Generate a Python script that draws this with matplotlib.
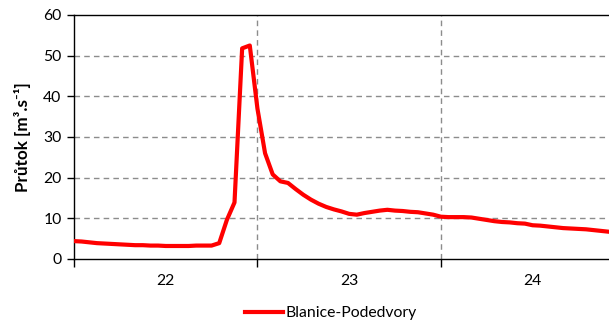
import matplotlib
matplotlib.use("Agg")
import matplotlib.pyplot as plt
from matplotlib.ticker import FixedLocator, NullFormatter

plt.rcParams['font.family'] = ['Lato', 'DejaVu Sans']

series_name = "Blanice-Podedvory"
day_labels = ["22", "23", "24"]
hours = list(range(71))
flow = [4.4, 4.3, 4.1, 3.9, 3.8, 3.7, 3.6, 3.5, 3.4, 3.4,
        3.3, 3.3, 3.2, 3.2, 3.2, 3.2, 3.3, 3.3, 3.3, 3.9,
        9.6, 13.9, 51.8, 52.5, 37.0, 26.0, 20.8, 19.1, 18.7, 17.2,
        15.8, 14.6, 13.6, 12.8, 12.2, 11.7, 11.1, 10.9, 11.3, 11.6,
        11.9, 12.1, 11.9, 11.8, 11.6, 11.5, 11.2, 10.9, 10.4, 10.3,
        10.3, 10.3, 10.2, 9.9, 9.6, 9.3, 9.1, 9.0, 8.8, 8.7,
        8.3, 8.2, 8.0, 7.8, 7.6, 7.5, 7.4, 7.3, 7.1, 6.9, 6.7]

fs = 11.3
fig = plt.figure(figsize=(6.09, 3.22), dpi=100)
ax = fig.add_axes([74/609, 1-259/322, 1-74/609, (259-15)/322])

ax.plot(hours, flow, color='#FF0000', lw=3.0, solid_joinstyle='round', label=series_name, zorder=3)

ax.set_xlim(0, 70)
ax.set_ylim(0, 60)
ax.set_yticks(range(0, 61, 10))
ax.xaxis.set_major_locator(FixedLocator([0, 24, 48]))
ax.xaxis.set_major_formatter(NullFormatter())
ax.xaxis.set_minor_locator(FixedLocator([12, 36, 60]))
ax.set_xticklabels(day_labels, minor=True)
ax.tick_params(axis='x', which='minor', length=0, pad=11, labelsize=fs, colors='black')
ax.tick_params(axis='x', which='major', length=6, width=1, direction='out', color='black')
ax.tick_params(axis='y', length=5, width=1, direction='out', labelsize=fs, pad=4)

for y in range(10, 60, 10):
    ax.axhline(y, color='#8c8c8c', lw=1, ls=(0, (4, 3)), zorder=1)
for x in [24, 48]:
    ax.axvline(x, color='#8c8c8c', lw=1, ls=(0, (4, 3)), zorder=1)

for s in ['left', 'bottom', 'top']:
    ax.spines[s].set_color('black')
    ax.spines[s].set_linewidth(1)
ax.spines['right'].set_visible(False)

ax.set_ylabel('Průtok [m³.s⁻¹]', fontsize=12.3, fontweight='bold', labelpad=9)

fig.legend(loc='center', bbox_to_anchor=(331/609, 1-313/322), frameon=False,
           fontsize=fs, handlelength=2.4, handletextpad=0.15)

fig.savefig('out.png', dpi=100)
